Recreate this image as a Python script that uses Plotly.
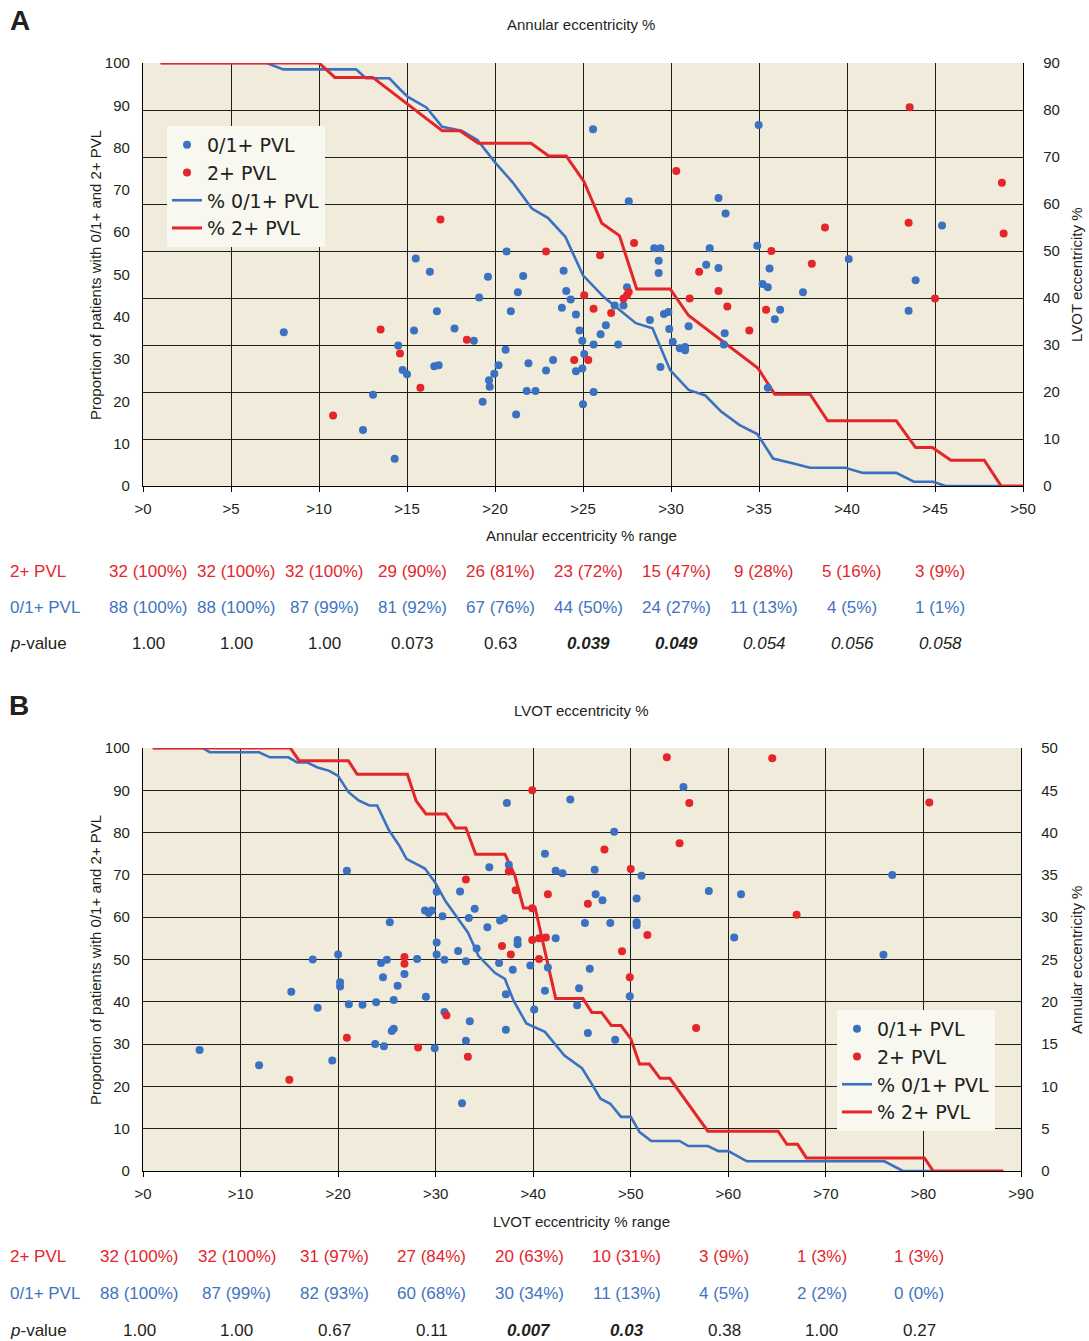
import plotly.graph_objects as go

# ---------------- Data ----------------
# Individual patients: annular eccentricity (%) and LVOT eccentricity (%)
ann_01 = [8.0, 13.07, 12.5, 14.3, 14.5, 14.75, 15.0, 15.5, 15.4, 16.3, 16.7, 16.55, 16.8, 17.7, 18.8,
          19.1, 19.6, 19.3, 19.66, 19.7, 19.96, 20.2, 20.6, 20.66, 20.9, 21.2, 21.3, 21.6, 21.9, 21.8,
          22.3, 22.9, 23.3, 23.9, 23.8, 24.05, 24.3, 24.6, 24.6, 24.8, 24.96, 25.07, 24.96, 25.0, 25.6,
          25.6, 27.6, 32.7, 33.1, 29.05, 29.4, 29.3, 29.3, 32.2, 32.0, 32.7, 34.9, 35.6, 35.2, 35.5,
          36.2, 35.9, 33.05, 33.0, 31.0, 29.9, 30.1, 30.5, 30.8, 30.8, 29.6, 29.85, 28.8, 29.4, 27.5,
          26.8, 27.3, 26.3, 26.0, 27.0, 25.57, 34.98, 45.4, 40.1, 37.5, 43.9, 43.5, 35.5]
lvot_01 = [32.7, 19.4, 11.9, 5.8, 29.9, 24.7, 23.8, 48.4, 33.1, 45.6, 37.2, 25.5, 25.7, 33.5, 30.9,
           40.1, 44.5, 17.9, 22.5, 21.1, 23.9, 25.7, 29.0, 49.9, 37.2, 15.2, 41.2, 44.7, 26.1, 20.2,
           20.2, 24.6, 26.8, 45.8, 37.9, 41.5, 39.7, 36.5, 24.4, 33.1, 30.9, 28.1, 25.0, 17.4, 30.1,
           20.0, 60.6, 61.3, 58.0, 50.6, 50.6, 47.9, 45.3, 50.6, 47.1, 46.4, 51.1, 46.3, 43.0, 42.3,
           37.5, 35.5, 32.5, 30.1, 34.0, 33.4, 30.7, 29.3, 29.6, 28.9, 36.6, 37.0, 35.3, 25.3, 42.3,
           38.4, 38.4, 34.2, 32.3, 30.1, 75.9, 76.8, 55.4, 48.3, 41.2, 43.8, 37.3, 20.9]
ann_2 = [13.5, 10.8, 14.6, 15.76, 18.4, 22.9, 24.5, 25.07, 25.3, 25.6, 25.97, 16.9, 27.9, 31.6, 35.7,
         32.7, 33.2, 31.06, 35.4, 34.45, 27.3, 27.5, 27.6, 26.6, 43.56, 30.3, 48.8, 43.5, 38.75, 48.9,
         38.0, 45.0]
lvot_2 = [33.3, 15.0, 28.2, 20.9, 31.1, 49.9, 26.8, 40.6, 26.8, 37.7, 49.1, 56.7, 51.7, 45.6, 50.0,
          41.5, 38.2, 39.9, 37.5, 33.1, 39.9, 40.6, 41.3, 36.8, 80.6, 67.0, 64.5, 56.0, 55.0, 53.7,
          47.3, 39.9]

# Panel A: proportion (%) of patients above each annular eccentricity threshold
a_blue_x = [1, 7.03, 7.97, 12.1, 12.67, 14.0, 14.6, 15.05, 16.1, 17.0, 18.1, 19.0, 20.0, 21.0, 22.1,
            23.0, 24.0, 25.0, 26.2, 28.0, 28.95, 29.95, 31.0, 31.95, 32.85, 33.9, 34.9, 35.8, 36.9,
            37.9, 39.9, 40.9, 42.8, 43.8, 44.9, 45.6, 48.8]
a_blue_y = [100, 100, 98.5, 98.5, 96.4, 96.4, 93.8, 92.0, 89.5, 84.9, 84.0, 81.8, 76.5, 71.8, 65.6,
            63.4, 58.9, 49.8, 44.6, 38.5, 37.3, 27.4, 22.7, 21.4, 17.6, 14.4, 12.3, 6.5, 5.4,
            4.3, 4.3, 3.1, 3.1, 1.0, 1.0, 0, 0]
a_red_x = [1, 10.0, 10.9, 13.05, 17.0, 18.0, 19.05, 22.05, 23.05, 24.05, 25.05, 26.07, 27.07, 28.05,
           29.95, 31.0, 34.95, 35.9, 37.9, 38.9, 42.8, 43.9, 44.85, 45.9, 47.8, 48.76, 50]
a_red_y = [100, 100, 96.6, 96.6, 84.0, 84.0, 81.0, 81.0, 78.0, 78.0, 72.0, 62.1, 59.2, 46.6,
           46.6, 40.3, 27.8, 21.7, 21.7, 15.4, 15.4, 9.1, 9.1, 6.1, 6.1, 0, 0]

# Panel B: proportion (%) of patients above each LVOT eccentricity threshold
b_blue_x = [1, 6.1, 6.84, 11.9, 13.0, 14.9, 15.8, 16.8, 17.9, 19.1, 20.0, 21.05, 22.1, 23.2, 24.0,
            25.2, 26.3, 27.0, 28.9, 30.0, 31.0, 32.0, 33.3, 34.4, 36.1, 37.1, 38.0, 39.3, 41.2, 43.2,
            45.0, 46.0, 46.9, 47.9, 49.0, 50.0, 50.9, 52.1, 55.0, 55.9, 57.9, 59.0, 60.0, 61.9, 76.0,
            77.9, 81.0]
b_blue_y = [100, 100, 99.0, 99.0, 97.8, 97.8, 96.6, 96.6, 95.4, 94.6, 93.4, 89.6, 87.6, 86.4, 86.4,
            80.6, 76.8, 73.8, 71.5, 68.0, 63.8, 60.5, 56.4, 50.8, 46.8, 45.4, 40.2, 34.9, 32.9, 27.3,
            24.3, 20.6, 17.1, 15.9, 12.8, 12.8, 9.2, 7.1, 7.1, 5.9, 5.9, 4.7, 4.7, 2.3, 2.3,
            0, 0]
b_red_x = [1, 15.1, 16.0, 21.05, 21.95, 27.1, 28.0, 29.0, 31.05, 32.0, 33.1, 34.1, 37.1, 38.1, 39.0,
           40.2, 41.1, 42.3, 45.1, 46.0, 47.0, 48.0, 49.0, 50.0, 50.9, 51.9, 53.0, 54.0, 57.9, 65.1,
           66.0, 67.1, 68.0, 80.1, 81.0, 88.2]
b_red_y = [100, 100, 97.0, 97.0, 93.8, 93.8, 87.5, 84.4, 84.4, 81.1, 81.1, 74.9, 74.9, 70.0, 62.2,
           62.2, 53.0, 40.8, 40.8, 37.5, 37.5, 34.4, 34.4, 31.3, 25.3, 25.3, 21.9, 21.9, 9.4, 9.4,
           6.3, 6.3, 3.1, 3.1, 0, 0]

# Axis ticks
a_ticks = [0, 5, 10, 15, 20, 25, 30, 35, 40, 45, 50]
a_ticktext = [">0", ">5", ">10", ">15", ">20", ">25", ">30", ">35", ">40", ">45", ">50"]
b_ticks = [0, 10, 20, 30, 40, 50, 60, 70, 80, 90]
b_ticktext = [">0", ">10", ">20", ">30", ">40", ">50", ">60", ">70", ">80", ">90"]

# Tables
a_thresh = [0, 5, 10, 15, 20, 25, 30, 35, 40, 45]
a_red_txt = ["32 (100%)", "32 (100%)", "32 (100%)", "29 (90%)", "26 (81%)", "23 (72%)", "15 (47%)",
             "9 (28%)", "5 (16%)", "3 (9%)"]
a_blue_txt = ["88 (100%)", "88 (100%)", "87 (99%)", "81 (92%)", "67 (76%)", "44 (50%)", "24 (27%)",
              "11 (13%)", "4 (5%)", "1 (1%)"]
a_p = ["1.00", "1.00", "1.00", "0.073", "0.63", "0.039", "0.049", "0.054", "0.056", "0.058"]
a_p_style = ["n", "n", "n", "n", "n", "bi", "bi", "i", "i", "i"]

b_thresh = [0, 10, 20, 30, 40, 50, 60, 70, 80]
b_red_txt = ["32 (100%)", "32 (100%)", "31 (97%)", "27 (84%)", "20 (63%)", "10 (31%)", "3 (9%)",
             "1 (3%)", "1 (3%)"]
b_blue_txt = ["88 (100%)", "87 (99%)", "82 (93%)", "60 (68%)", "30 (34%)", "11 (13%)", "4 (5%)",
              "2 (2%)", "0 (0%)"]
b_p = ["1.00", "1.00", "0.67", "0.11", "0.007", "0.03", "0.38", "1.00", "0.27"]
b_p_style = ["n", "n", "n", "n", "bi", "bi", "n", "n", "n"]

# ---------------- Style ----------------
W, H = 1089, 1341
FONT = "Liberation Sans, Arial, sans-serif"
LEGFONT = "DejaVu Sans, Liberation Sans, sans-serif"
TXT = "#231f20"
BLUE = "#3a71c1"
RED = "#e4252a"
TBLUE = "#4274c0"
TRED = "#e3262c"
BG = "#f0ebda"
GRID = "#1e1e1e"


def px_x(p):
    return p / W


def px_y(p):
    return 1 - p / H


XA = [px_x(143), px_x(1023)]
XB = [px_x(143), px_x(1021)]
YA = [px_y(486), px_y(63)]
YB = [px_y(1171), px_y(748)]

fig = go.Figure()

# Panel A
fig.add_trace(go.Scatter(x=a_blue_x, y=a_blue_y, mode="lines", name="% 0/1+ PVL",
                         line=dict(color=BLUE, width=2.6), xaxis="x", yaxis="y",
                         legend="legend", legendrank=3, cliponaxis=False))
fig.add_trace(go.Scatter(x=a_red_x, y=a_red_y, mode="lines", name="% 2+ PVL",
                         line=dict(color=RED, width=3), xaxis="x", yaxis="y",
                         legend="legend", legendrank=4, cliponaxis=False))
fig.add_trace(go.Scatter(x=ann_01, y=lvot_01, mode="markers", name="0/1+ PVL",
                         marker=dict(color=BLUE, size=8), xaxis="x", yaxis="y2",
                         legend="legend", legendrank=1))
fig.add_trace(go.Scatter(x=ann_2, y=lvot_2, mode="markers", name="2+ PVL",
                         marker=dict(color=RED, size=8), xaxis="x", yaxis="y2",
                         legend="legend", legendrank=2))

# Panel B
fig.add_trace(go.Scatter(x=b_blue_x, y=b_blue_y, mode="lines", name="% 0/1+ PVL",
                         line=dict(color=BLUE, width=2.6), xaxis="x3", yaxis="y3",
                         legend="legend2", legendrank=3, cliponaxis=False))
fig.add_trace(go.Scatter(x=b_red_x, y=b_red_y, mode="lines", name="% 2+ PVL",
                         line=dict(color=RED, width=3), xaxis="x3", yaxis="y3",
                         legend="legend2", legendrank=4, cliponaxis=False))
fig.add_trace(go.Scatter(x=lvot_01, y=ann_01, mode="markers", name="0/1+ PVL",
                         marker=dict(color=BLUE, size=8), xaxis="x3", yaxis="y4",
                         legend="legend2", legendrank=1))
fig.add_trace(go.Scatter(x=lvot_2, y=ann_2, mode="markers", name="2+ PVL",
                         marker=dict(color=RED, size=8), xaxis="x3", yaxis="y4",
                         legend="legend2", legendrank=2))

tickfont = dict(family=FONT, size=15, color=TXT)
base = dict(showline=True, linecolor="black", linewidth=1.3, zeroline=False, tickfont=tickfont,
            fixedrange=True, automargin=False)

fig.update_layout(
    template="none",
    width=W, height=H, autosize=False,
    margin=dict(l=0, r=0, t=0, b=0, pad=0),
    font=dict(family=FONT, color=TXT),
    paper_bgcolor="white", plot_bgcolor=BG,
    xaxis=dict(base, domain=XA, anchor="y", range=[0, 50], tickvals=a_ticks, ticktext=a_ticktext,
               showgrid=True, gridcolor=GRID, gridwidth=1.3, ticks="outside", ticklen=5,
               tickcolor="black", ticklabelstandoff=4),
    xaxis2=dict(base, overlaying="x", anchor="y", side="top", range=[0, 50], tickvals=a_ticks,
                showgrid=False, ticks="", ticklabelstandoff=6),
    yaxis=dict(base, domain=YA, anchor="x", range=[0, 100], dtick=10, showgrid=False, ticks="",
               ticklabelstandoff=9),
    yaxis2=dict(base, overlaying="y", anchor="x", side="right", range=[0, 90], dtick=10,
                showgrid=True, gridcolor=GRID, gridwidth=1.3, ticks="", ticklabelstandoff=16),
    xaxis3=dict(base, domain=XB, anchor="y3", range=[0, 90], tickvals=b_ticks, ticktext=b_ticktext,
                showgrid=True, gridcolor=GRID, gridwidth=1.3, ticks="outside", ticklen=5,
                tickcolor="black", ticklabelstandoff=4),
    xaxis4=dict(base, overlaying="x3", anchor="y3", side="top", range=[0, 90], tickvals=b_ticks,
                showgrid=False, ticks="", ticklabelstandoff=6),
    yaxis3=dict(base, domain=YB, anchor="x3", range=[0, 100], dtick=10, showgrid=False, ticks="",
                ticklabelstandoff=9),
    yaxis4=dict(base, overlaying="y3", anchor="x3", side="right", range=[0, 50], dtick=5,
                showgrid=True, gridcolor=GRID, gridwidth=1.3, ticks="", ticklabelstandoff=16),
    legend=dict(x=px_x(167), y=px_y(126), xanchor="left", yanchor="top", bgcolor="#f8f7f0",
                font=dict(family=LEGFONT, size=19, color=TXT), itemwidth=30, tracegroupgap=0,
                borderwidth=0),
    legend2=dict(x=px_x(837), y=px_y(1010), xanchor="left", yanchor="top", bgcolor="#f8f7f0",
                 font=dict(family=LEGFONT, size=19, color=TXT), itemwidth=30, tracegroupgap=0,
                 borderwidth=0),
    showlegend=True,
)

ann = []


def txt(x, y, s, size=15, color=TXT, xref="paper", xanchor="center", angle=0, xshift=0):
    ann.append(dict(x=x, y=y, xref=xref, yref="paper", text=s, showarrow=False, xanchor=xanchor,
                    yanchor="middle", textangle=angle, xshift=xshift,
                    font=dict(family=FONT, size=size, color=color)))


# Panel letters
txt(px_x(8), px_y(20), "<b>A</b>", size=28, xanchor="left")
txt(px_x(7), px_y(705), "<b>B</b>", size=28, xanchor="left")

# Axis titles panel A
txt(px_x(581), px_y(24), "Annular eccentricity %")
txt(px_x(581), px_y(535), "Annular eccentricity % range")
txt(px_x(95), px_y(275), "Proportion of patients with 0/1+ and 2+ PVL", angle=-90)
txt(px_x(1076), px_y(275), "LVOT eccentricity %", angle=-90)
# Axis titles panel B
txt(px_x(581), px_y(710), "LVOT eccentricity %")
txt(px_x(581), px_y(1221), "LVOT eccentricity % range")
txt(px_x(95), px_y(960), "Proportion of patients with 0/1+ and 2+ PVL", angle=-90)
txt(px_x(1076), px_y(960), "Annular eccentricity %", angle=-90)


def pfmt(s, st):
    if st == "bi":
        return "<b><i>" + s + "</i></b>"
    if st == "i":
        return "<i>" + s + "</i>"
    return s


TS = 17
# Table A
for rowy, label, col in [(571, "2+ PVL", TRED), (607, "0/1+ PVL", TBLUE), (643, "<i>p</i>-value", TXT)]:
    txt(px_x(8), px_y(rowy), label, size=TS, color=col, xanchor="left")
for i, t in enumerate(a_thresh):
    txt(t, px_y(571), a_red_txt[i], size=TS, color=TRED, xref="x", xshift=5)
    txt(t, px_y(607), a_blue_txt[i], size=TS, color=TBLUE, xref="x", xshift=5)
    txt(t, px_y(643), pfmt(a_p[i], a_p_style[i]), size=TS, color=TXT, xref="x", xshift=5)

# Table B
for rowy, label, col in [(1256, "2+ PVL", TRED), (1293, "0/1+ PVL", TBLUE), (1330, "<i>p</i>-value", TXT)]:
    txt(px_x(8), px_y(rowy), label, size=TS, color=col, xanchor="left")
for i, t in enumerate(b_thresh):
    txt(t, px_y(1256), b_red_txt[i], size=TS, color=TRED, xref="x3", xshift=-4)
    txt(t, px_y(1293), b_blue_txt[i], size=TS, color=TBLUE, xref="x3", xshift=-4)
    txt(t, px_y(1330), pfmt(b_p[i], b_p_style[i]), size=TS, color=TXT, xref="x3", xshift=-4)

fig.update_layout(annotations=ann)
fig.write_html("out.html")
